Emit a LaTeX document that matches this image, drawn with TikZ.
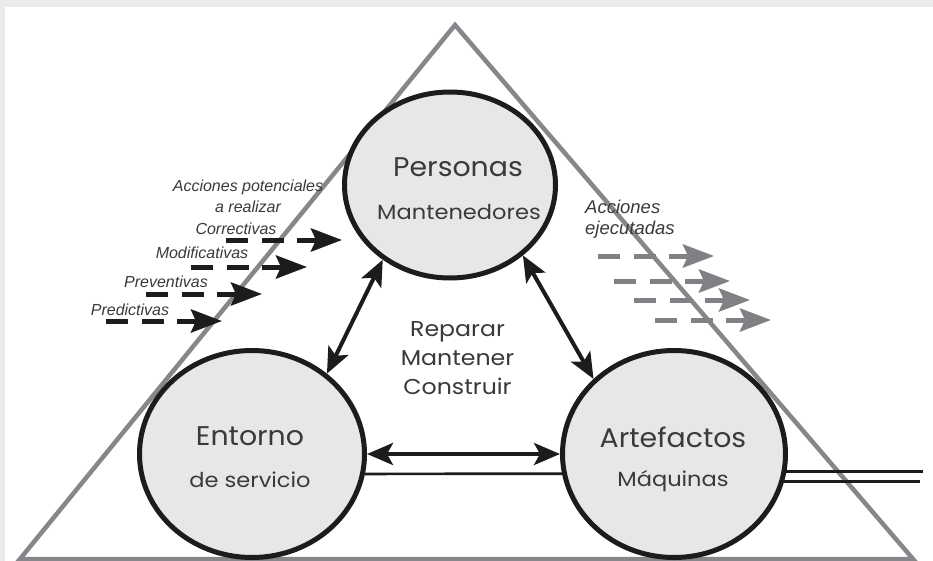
\documentclass[tikz,border=0pt]{standalone}
\usepackage{fontspec}
\setmainfont{Poppins}
\newfontfamily\titlefont[FakeStretch=1.05]{Poppins}
\newfontfamily\subfont[FakeStretch=1.1]{Poppins}
\newfontfamily\labelfont{Liberation Sans}
\usetikzlibrary{arrows.meta,shapes.geometric}

\definecolor{tri}{HTML}{86878A}
\definecolor{disk}{HTML}{E6E7E9}
\definecolor{ink}{HTML}{1C1C1C}
\definecolor{txt}{HTML}{3A3A3A}
\definecolor{frame}{HTML}{EBEBEB}
\definecolor{done}{HTML}{808184}

\begin{document}
\begin{tikzpicture}[x=1pt,y=-1pt,
  actor/.style={ellipse, draw=ink, line width=5pt, fill=disk, inner sep=0pt},
  head/.tip={Stealth[length=26pt,width=22pt,inset=6pt]},
  link/.style={draw=ink, line width=4pt, head-head},
  rail/.style={draw=ink, line width=2.7pt},
  big/.style={text=txt, inner sep=0pt, font=\titlefont\fontsize{27}{27}\selectfont},
  small/.style={text=txt, inner sep=0pt, font=\subfont\fontsize{20.5}{20.5}\selectfont},
  act/.style={text=txt, inner sep=0pt, font=\labelfont\itshape\fontsize{16}{21}\selectfont},
  flowtip/.tip={Stealth[length=31pt,width=23pt,inset=5pt]},
  flowseg/.style={line width=5pt},
]
% card and its shadow
\fill[frame] (0,0) rectangle (933,561);
\fill[white] (5,7) rectangle (933,561);
\useasboundingbox (0,0) rectangle (933,561);

% large triangle
\draw[tri, line width=4.5pt, line join=miter] (455,25) -- (913,559) -- (20,559) -- cycle;

% pending actions (black dashed arrows)
\foreach \x/\y in {226/240, 191/267, 146/294, 106/321}{
  \draw[ink, flowseg] (\x,\y) -- ++(22,0);
  \draw[ink, flowseg] (\x+36,\y) -- ++(22,0);
  \draw[ink, flowseg, -flowtip] (\x+71,\y) -- ++(45,0);
}
% executed actions (grey dashed arrows)
\foreach \x/\y in {598/256, 614/281, 634/300, 655/320}{
  \draw[done, flowseg] (\x,\y) -- ++(22,0);
  \draw[done, flowseg] (\x+36,\y) -- ++(22,0);
  \draw[done, flowseg, -flowtip] (\x+71,\y) -- ++(45,0);
}

% the three actors
\node[actor, minimum width=211pt, minimum height=186pt] (P) at (450,185) {};
\node[actor, minimum width=225pt, minimum height=207pt] (E) at (252,454) {};
\node[actor, minimum width=223pt, minimum height=207pt] (A) at (674,454) {};

\node[big]   (pt) at (458,167) {Personas};
\node[small] (ps) at (459,212) {Mantenedores};
\node[big]   (et) at (250,436) {Entorno};
\node[small] (es) at (250,480) {de servicio};
\node[big]   (at) at (673,437) {Artefactos};
\node[small] (as) at (673,481) {Máquinas};

% relations between actors
\draw[link] (P.228) -- (E.47);
\draw[link] (P.-44) -- (A.137);
\draw[link] (E.east) -- (A.west);
\draw[rail] (E.-10.5) -- (A.190.5);
\coordinate (r1) at (923,473);
\coordinate (r2) at (920,482);
\draw[rail] (A.-9.6) -- (A.-9.6 -| r1);
\draw[rail] (A.-14.2) -- (A.-14.2 -| r2);

\node[small, align=center, font=\subfont\fontsize{21.5}{29}\selectfont] (work) at (457.5,358.5) {Reparar\\Mantener\\Construir};

% labels of the action arrows
\node[act, align=center] (pend) at (248,196.5) {Acciones potenciales\\a realizar};
\node[act] (c1) at (236,229) {Correctivas};
\node[act] (c2) at (202,253) {Modificativas};
\node[act] (c3) at (166,282) {Preventivas};
\node[act] (c4) at (130,310) {Predictivas};
\node[act, align=left, anchor=north west, font=\labelfont\itshape\fontsize{18.5}{21}\selectfont] (exec) at (585,200) {Acciones\\ejecutadas};
\end{tikzpicture}
\end{document}
